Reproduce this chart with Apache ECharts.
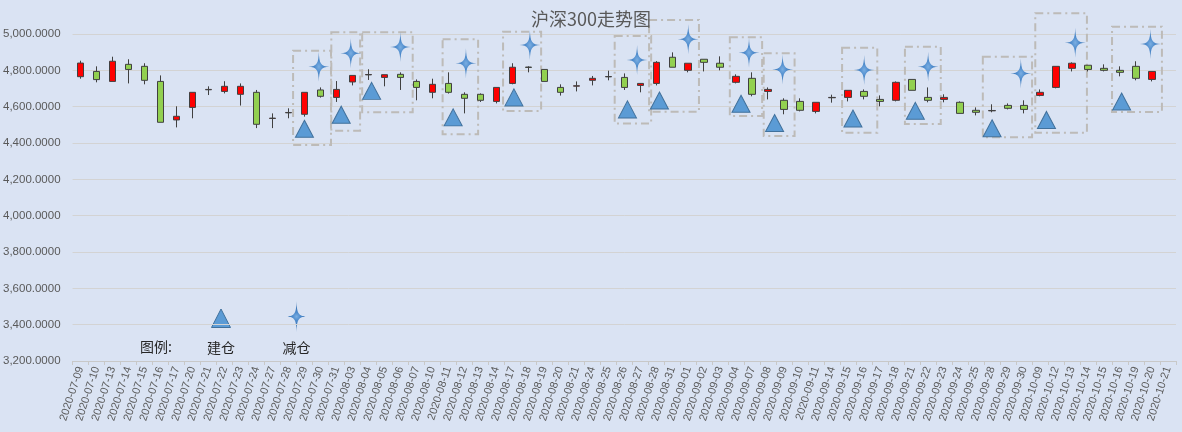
<!DOCTYPE html>
<html>
<head>
<meta charset="utf-8">
<script src="https://cdn.jsdelivr.net/npm/echarts@6/dist/echarts.min.js"></script>
<style>
  html, body { margin: 0; padding: 0; background: #DAE3F3; }
  #main { width: 1182px; height: 432px; }
</style>
</head>
<body>
<div id="main"></div>
<script>
// 日期
const dates = [
  "2020-07-09","2020-07-10","2020-07-13","2020-07-14","2020-07-15","2020-07-16","2020-07-17",
  "2020-07-20","2020-07-21","2020-07-22","2020-07-23","2020-07-24","2020-07-27","2020-07-28",
  "2020-07-29","2020-07-30","2020-07-31","2020-08-03","2020-08-04","2020-08-05","2020-08-06",
  "2020-08-07","2020-08-10","2020-08-11","2020-08-12","2020-08-13","2020-08-14","2020-08-17",
  "2020-08-18","2020-08-19","2020-08-20","2020-08-21","2020-08-24","2020-08-25","2020-08-26",
  "2020-08-27","2020-08-28","2020-08-31","2020-09-01","2020-09-02","2020-09-03","2020-09-04",
  "2020-09-07","2020-09-08","2020-09-09","2020-09-10","2020-09-11","2020-09-14","2020-09-15",
  "2020-09-16","2020-09-17","2020-09-18","2020-09-21","2020-09-22","2020-09-23","2020-09-24",
  "2020-09-25","2020-09-28","2020-09-29","2020-09-30","2020-10-09","2020-10-12","2020-10-13",
  "2020-10-14","2020-10-15","2020-10-16","2020-10-19","2020-10-20","2020-10-21"
];
// 开盘 / 收盘 / 最低 / 最高 (10-21 无数据)
const openVals = [
  4765,4794,4739,4833,4822,4739,4527,4596,4693,4684,4668,4679,4535,4566,
  4558,4692,4651,4736,4775,4761,4778,4739,4679,4728,4668,4668,4629,4728,
  4818,4805,4706,4713,4745,4764,4761,4717,4728,4872,4800,4861,4839,4734,
  4756,4684,4635,4629,4574,4649,4651,4684,4640,4635,4750,4651,4640,4624,
  4580,4577,4607,4607,4662,4706,4811,4828,4811,4800,4822,4750,null
];
const closeVals = [
  4840,4749,4850,4805,4745,4514,4547,4679,4695,4712,4712,4503,4537,4568,
  4679,4657,4695,4772,4777,4776,4761,4706,4723,4679,4646,4635,4706,4817,
  4816,4739,4679,4715,4756,4766,4706,4728,4844,4817,4839,4844,4817,4767,
  4668,4695,4585,4580,4624,4651,4690,4657,4629,4734,4690,4635,4651,4563,
  4569,4579,4591,4585,4679,4822,4839,4805,4800,4789,4756,4794,null
];
const lowVals = [
  4754,4734,4739,4728,4723,4514,4486,4536,4664,4673,4606,4482,4482,4536,
  4545,4650,4626,4717,4747,4712,4692,4635,4646,4672,4563,4626,4618,4723,
  4789,4739,4661,4684,4717,4745,4692,4679,4717,4817,4789,4794,4800,4728,
  4657,4640,4558,4574,4563,4622,4629,4640,4602,4629,4690,4624,4624,4563,
  4552,4569,4585,4563,4657,4701,4794,4794,4794,4767,4745,4739,null
];
const highVals = [
  4853,4822,4875,4861,4839,4772,4602,4679,4712,4740,4728,4692,4563,4591,
  4679,4706,4741,4772,4806,4776,4789,4750,4754,4789,4679,4673,4706,4839,
  4822,4805,4723,4739,4769,4798,4783,4728,4851,4899,4839,4861,4877,4778,
  4789,4706,4646,4646,4624,4666,4690,4695,4662,4739,4750,4706,4668,4629,
  4596,4613,4618,4635,4695,4822,4844,4828,4833,4822,4850,4794,null
];

// 建仓 (三角) 位置: 类目序号 + 点位
const buyPos = [14.0,16.3,18.2,23.3,27.1,34.2,36.2,41.3,43.4,48.3,52.2,57.0,60.4,65.1];
const buyVal = [4478,4556,4687,4541,4651,4585,4634,4616,4510,4535,4577,4481,4527,4628];
// 减仓 (四角星)
const sellPos = [14.9,16.9,20.0,24.1,28.1,34.8,38.0,41.8,43.9,49.0,53.0,58.8,62.2,66.9];
const sellVal = [4820,4894,4928,4839,4939,4857,4971,4897,4805,4802,4820,4783,4952,4945];

// 虚线框: 起止类目位置, 下沿, 上沿
const boxFrom = [13.29,15.68,17.61,22.64,26.42,33.40,35.55,40.60,42.72,47.62,51.55,56.42,59.70,64.50];
const boxTo   = [15.66,17.48,20.77,24.86,28.80,35.68,38.67,42.62,44.65,49.82,53.79,59.50,62.93,67.62];
const boxLow  = [4389,4468,4569,4448,4576,4508,4572,4549,4438,4457,4505,4431,4457,4571];
const boxHigh = [4908,5009,5009,4971,5013,4989,5077,4982,4894,4925,4930,4875,5114,5040];

// 四角星: 每段三次曲线
const starPath = 'path://M10,0 C10.3,11.2 12,13.58 20,14 C12,14.42 10.3,16.8 10,28 ' +
  'C9.7,16.8 8,14.42 0,14 C8,13.58 9.7,11.2 10,0 Z';

const kData = dates.map((d, i) =>
  openVals[i] == null ? ['-', '-', '-', '-'] : [openVals[i], closeVals[i], lowVals[i], highVals[i]]
);
const buyData = buyPos.map((x, i) => [x, buyVal[i]]);
const sellData = sellPos.map((x, i) => [x, sellVal[i]]);
const boxData = boxFrom.map((x, i) => [x, boxTo[i], boxLow[i], boxHigh[i]]);

const starColor = () => new echarts.graphic.RadialGradient(0.5, 0.5, 0.5, [
  { offset: 0, color: '#7AAEE2' },
  { offset: 0.4, color: '#4E8BCC' },
  { offset: 1, color: '#3B74B2' }
]);

// 图例用的四角星轮廓 (与上面 path 同样的三次曲线取点)
function starPoints(cx, cy, w, h) {
  const tips = [[0, -1], [1, 0], [0, 1], [-1, 0]];
  const pts = [];
  for (let n = 0; n < 4; n++) {
    const a = tips[n], b = tips[(n + 1) % 4];
    const c1 = [a[0] * 0.2 + b[0] * 0.03, a[1] * 0.2 + b[1] * 0.03];
    const c2 = [b[0] * 0.2 + a[0] * 0.03, b[1] * 0.2 + a[1] * 0.03];
    for (let s = 0; s < 20; s++) {
      const t = s / 20, u = 1 - t;
      const x = u * u * u * a[0] + 3 * u * u * t * c1[0] + 3 * u * t * t * c2[0] + t * t * t * b[0];
      const y = u * u * u * a[1] + 3 * u * u * t * c1[1] + 3 * u * t * t * c2[1] + t * t * t * b[1];
      pts.push([cx + x * w / 2, cy + y * h / 2]);
    }
  }
  return pts;
}

const chart = echarts.init(document.getElementById('main'));

chart.setOption({
  backgroundColor: '#DAE3F3',
  animation: false,
  title: {
    text: '沪深300走势图',
    left: 'center',
    top: 5,
    textStyle: {
      fontFamily: 'Noto Sans CJK SC',
      fontSize: 18,
      fontWeight: 'normal',
      color: '#595959'
    }
  },
  grid: { left: 69, right: 6, top: 34, bottom: 71 },
  xAxis: [
    {
      type: 'category',
      data: dates,
      boundaryGap: true,
      axisLine: { lineStyle: { color: '#C8C8C8' } },
      axisTick: { show: true, length: 4, lineStyle: { color: '#C8C8C8' } },
      axisLabel: {
        interval: 0,
        rotate: 72,
        fontSize: 11,
        fontFamily: 'Liberation Sans',
        color: '#595959',
        margin: 6
      },
      splitLine: { show: false }
    },
    {
      type: 'value',
      min: -0.5,
      max: dates.length - 0.5,
      show: false
    }
  ],
  yAxis: {
    type: 'value',
    min: 3200,
    max: 5000,
    interval: 200,
    axisLine: { show: false },
    axisTick: { show: false },
    axisLabel: {
      fontSize: 11.5,
      fontFamily: 'Liberation Sans',
      color: '#595959',
      margin: 12,
      formatter: v => v.toLocaleString('en-US', { minimumFractionDigits: 4, maximumFractionDigits: 4 })
    },
    splitLine: { lineStyle: { color: '#D3D3D3' } }
  },
  series: [
    {
      type: 'custom',
      name: 'box',
      xAxisIndex: 1,
      yAxisIndex: 0,
      clip: false,
      silent: true,
      z: 1,
      encode: { x: [0, 1], y: [2, 3] },
      data: boxData,
      renderItem: function (params, api) {
        const p0 = api.coord([api.value(0), api.value(3)]);
        const p1 = api.coord([api.value(1), api.value(2)]);
        return {
          type: 'rect',
          shape: { x: p0[0], y: p0[1], width: p1[0] - p0[0], height: p1[1] - p0[1] },
          style: { fill: 'none', stroke: '#BDBBB8', lineWidth: 2, lineDash: [8, 4, 2, 4] }
        };
      }
    },
    {
      type: 'candlestick',
      name: '沪深300',
      xAxisIndex: 0,
      barWidth: 7,
      z: 2,
      data: kData,
      itemStyle: {
        color: '#FF0000',
        color0: '#92D050',
        borderColor: '#404040',
        borderColor0: '#404040',
        borderColorDoji: '#404040',
        borderWidth: 1
      }
    },
    {
      type: 'scatter',
      name: '建仓',
      xAxisIndex: 1,
      z: 3,
      symbol: 'triangle',
      symbolSize: [18, 17],
      data: buyData,
      itemStyle: { color: '#5B9BD5', borderColor: '#41719C', borderWidth: 1, opacity: 1 }
    },
    {
      type: 'scatter',
      name: '减仓',
      xAxisIndex: 1,
      z: 3,
      symbol: starPath,
      symbolSize: [21, 30],
      data: sellData,
      itemStyle: { color: starColor(), opacity: 1 }
    }
  ],
  graphic: [
    {
      type: 'text', x: 156, y: 347,
      style: { text: '图例:', font: '14px "Noto Sans CJK SC"', fill: '#262626',
        align: 'center', verticalAlign: 'middle' }
    },
    {
      type: 'polygon',
      shape: { points: [[221, 309], [230.5, 327.5], [211.5, 327.5]] },
      style: { fill: '#5B9BD5', stroke: '#41719C', lineWidth: 1 }
    },
    {
      type: 'text', x: 221, y: 348,
      style: { text: '建仓', font: '14px "Noto Sans CJK SC"', fill: '#262626',
        align: 'center', verticalAlign: 'middle' }
    },
    {
      type: 'polygon',
      shape: { points: starPoints(296.5, 316.5, 20, 31) },
      style: { fill: starColor() }
    },
    {
      type: 'text', x: 296.5, y: 348,
      style: { text: '减仓', font: '14px "Noto Sans CJK SC"', fill: '#262626',
        align: 'center', verticalAlign: 'middle' }
    }
  ]
});
</script>
</body>
</html>
